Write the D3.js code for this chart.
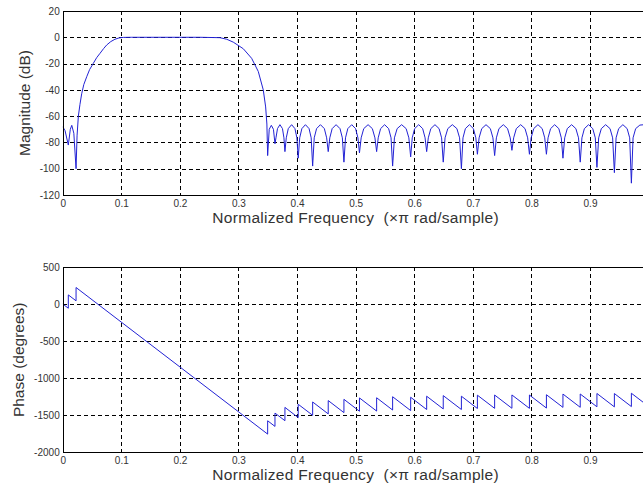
<!DOCTYPE html>
<html>
<head>
<meta charset="utf-8">
<script src="https://cdn.jsdelivr.net/npm/d3@7"></script>
<style>
  body { margin: 0; background: #fff; }
  svg { display: block; font-family: "Liberation Sans", Arial, sans-serif; }
</style>
</head>
<body>
<script>
// frequency ticks (x pi rad/sample)
const freqTicks = [0, 0.1, 0.2, 0.3, 0.4, 0.5, 0.6, 0.7, 0.8, 0.9];
const magTicks = [20, 0, -20, -40, -60, -80, -100, -120];
const phaseTicks = [500, 0, -500, -1000, -1500, -2000];

// magnitude response
const magFreq = [
  0, 0.004, 0.0096, 0.013, 0.0155, 0.019, 0.0228, 0.0245, 0.0267, 0.0295,
  0.0324, 0.036, 0.041, 0.046, 0.0523, 0.058, 0.0637, 0.07, 0.075, 0.082,
  0.0892, 0.096, 0.1034, 0.1177, 0.2343, 0.2684, 0.28, 0.2911, 0.3082, 0.3225,
  0.3338, 0.3423, 0.3464, 0.3485, 0.3498,
  0.3525, 0.3561, 0.3597, 0.3623,
  0.3640, 0.3666, 0.3708, 0.3751, 0.3776, 0.3793,
  0.3816, 0.3850, 0.3907, 0.3964, 0.3997, 0.4020,
  0.4045, 0.4082, 0.4143, 0.4205, 0.4241, 0.4266,
  0.4293, 0.4333, 0.4399, 0.4466, 0.4505, 0.4532,
  0.4559, 0.4599, 0.4666, 0.4733, 0.4773, 0.4800,
  0.4827, 0.4866, 0.4933, 0.4999, 0.5039, 0.5065,
  0.5094, 0.5138, 0.5212, 0.5285, 0.5329, 0.5358,
  0.5385, 0.5426, 0.5495, 0.5563, 0.5604, 0.5631,
  0.5662, 0.5708, 0.5785, 0.5862, 0.5908, 0.5939,
  0.5966, 0.6007, 0.6076, 0.6144, 0.6185, 0.6212,
  0.6240, 0.6283, 0.6354, 0.6424, 0.6467, 0.6495,
  0.6526, 0.6573, 0.6650, 0.6728, 0.6774, 0.6805,
  0.6832, 0.6873, 0.6942, 0.7010, 0.7051, 0.7078,
  0.7107, 0.7152, 0.7225, 0.7299, 0.7343, 0.7372,
  0.7402, 0.7446, 0.7520, 0.7593, 0.7638, 0.7667,
  0.7697, 0.7742, 0.7817, 0.7891, 0.7936, 0.7966,
  0.7995, 0.8039, 0.8111, 0.8184, 0.8227, 0.8256,
  0.8284, 0.8327, 0.8397, 0.8468, 0.8510, 0.8538,
  0.8568, 0.8612, 0.8686, 0.8759, 0.8804, 0.8833,
  0.8862, 0.8904, 0.8976, 0.9047, 0.9090, 0.9118,
  0.9148, 0.9193, 0.9267, 0.9342, 0.9386, 0.9416,
  0.9445, 0.9489, 0.9561, 0.9634, 0.9677, 0.9706,
  0.9735, 0.9779, 0.9851, 0.9925, 1.0
];
const magDb = [
  -68, -71, -82, -70, -67, -73, -100, -75, -60, -51,
  -43, -36, -30, -24.5, -19.8, -15.5, -12.2, -8.5, -5.9, -3.3,
  -1.5, -0.5, -0.1, 0, 0, -0.3, -1.5, -3.7, -8.7, -16,
  -26, -40, -53, -66, -90,
  -70, -67, -70, -81,
  -76.5, -69.5, -66.5, -69.5, -76.5, -87,
  -76.5, -69.5, -66.5, -69.5, -76.5, -92,
  -76.5, -69.5, -66.5, -69.5, -76.5, -98,
  -76.5, -69.5, -66.5, -69.5, -76.5, -87,
  -76.5, -69.5, -66.5, -69.5, -76.5, -95,
  -76.5, -69.5, -66.5, -69.5, -76.5, -88,
  -76.5, -69.5, -66.5, -69.5, -76.5, -87,
  -76.5, -69.5, -66.5, -69.5, -76.5, -98,
  -76.5, -69.5, -66.5, -69.5, -76.5, -91,
  -76.5, -69.5, -66.5, -69.5, -76.5, -87,
  -76.5, -69.5, -66.5, -69.5, -76.5, -95,
  -76.5, -69.5, -66.5, -69.5, -76.5, -100,
  -76.5, -69.5, -66.5, -69.5, -76.5, -89,
  -76.5, -69.5, -66.5, -69.5, -76.5, -90,
  -76.5, -69.5, -66.5, -69.5, -76.5, -86,
  -76.5, -69.5, -66.5, -69.5, -76.5, -89,
  -76.5, -69.5, -66.5, -69.5, -76.5, -89,
  -76.5, -69.5, -66.5, -69.5, -76.5, -92,
  -76.5, -69.5, -66.5, -69.5, -76.5, -95,
  -76.5, -69.5, -66.5, -69.5, -76.5, -99,
  -76.5, -69.5, -66.5, -69.5, -76.5, -103,
  -76.5, -69.5, -66.5, -69.5, -76.5, -111,
  -76.5, -69.5, -66.8, -66.5, -66.5
];

// phase response (repeated freq = jump)
const phaseFreq = [
  0, 0.0096, 0.0096, 0.0228, 0.0228, 0.3498, 0.3498, 0.3623, 0.3623, 0.3793,
  0.3793, 0.4020, 0.4020, 0.4266, 0.4266, 0.4532, 0.4532, 0.4800, 0.4800, 0.5065,
  0.5065, 0.5358, 0.5358, 0.5631, 0.5631, 0.5939, 0.5939, 0.6212, 0.6212, 0.6495,
  0.6495, 0.6805, 0.6805, 0.7078, 0.7078, 0.7372, 0.7372, 0.7667, 0.7667, 0.7966,
  0.7966, 0.8256, 0.8256, 0.8538, 0.8538, 0.8833, 0.8833, 0.9118, 0.9118, 0.9416,
  0.9416, 0.9706, 0.9706, 1.0
];
const phaseDeg = [
  5, -53, 127, 47, 227, -1754, -1574, -1650, -1470, -1573,
  -1393, -1531, -1351, -1500, -1320, -1481, -1301, -1464, -1284, -1445,
  -1265, -1443, -1263, -1429, -1249, -1436, -1256, -1422, -1242, -1414,
  -1234, -1422, -1242, -1408, -1228, -1406, -1226, -1405, -1225, -1406,
  -1226, -1402, -1222, -1393, -1213, -1392, -1212, -1385, -1205, -1386,
  -1206, -1382, -1202, -1380
];

const width = 643, height = 485;
const plotLeft = 62.7, plotRight = 648.6;

const svg = d3.select("body").append("svg")
  .attr("width", width)
  .attr("height", height);

const x = d3.scaleLinear().domain([0, 1]).range([plotLeft, plotRight]);

function panel(top, bottom, yDomain, yTicks, xs, ys, yLabel, yLabelX, id) {
  const y = d3.scaleLinear().domain(yDomain).range([bottom, top]);
  const g = svg.append("g");

  g.append("rect")
    .attr("x", plotLeft).attr("y", top)
    .attr("width", plotRight - plotLeft).attr("height", bottom - top)
    .attr("fill", "#fff");

  // grid
  const grid = g.append("g")
    .attr("stroke", "#000")
    .attr("stroke-width", 1)
    .attr("stroke-dasharray", "4,3")
    .attr("shape-rendering", "crispEdges");
  grid.selectAll(".vx").data(freqTicks.filter(d => d > 0)).enter().append("line")
    .attr("x1", d => Math.round(x(d)) + 0.5).attr("x2", d => Math.round(x(d)) + 0.5)
    .attr("y1", top).attr("y2", bottom);
  grid.selectAll(".hy").data(yTicks.filter(d => d > yDomain[0] && d < yDomain[1])).enter().append("line")
    .attr("y1", d => Math.round(y(d)) + 0.5).attr("y2", d => Math.round(y(d)) + 0.5)
    .attr("x1", plotLeft).attr("x2", plotRight);

  // data line
  svg.append("clipPath").attr("id", id)
    .append("rect")
    .attr("x", plotLeft).attr("y", top)
    .attr("width", plotRight - plotLeft).attr("height", bottom - top);

  const line = d3.line()
    .x((d, i) => x(xs[i]))
    .y((d, i) => y(ys[i]));

  g.append("path")
    .datum(xs)
    .attr("clip-path", "url(#" + id + ")")
    .attr("d", line)
    .attr("fill", "none")
    .attr("stroke", "#2222d4")
    .attr("stroke-width", 1);

  // box
  g.append("rect")
    .attr("x", Math.round(plotLeft) + 0.5).attr("y", Math.round(top) + 0.5)
    .attr("width", plotRight - plotLeft).attr("height", Math.round(bottom) - Math.round(top))
    .attr("fill", "none").attr("stroke", "#000").attr("stroke-width", 1)
    .attr("shape-rendering", "crispEdges");

  // axes
  const yAxis = g.append("g")
    .attr("transform", "translate(" + plotLeft + ",0)")
    .call(d3.axisLeft(y).tickValues(yTicks).tickSize(0).tickPadding(3).tickFormat(d3.format("d")));
  const xAxis = g.append("g")
    .attr("transform", "translate(0," + bottom + ")")
    .call(d3.axisBottom(x).tickValues(freqTicks).tickSize(0).tickPadding(5)
      .tickFormat(d => d === 0 ? "0" : d3.format(".1f")(d)));
  [xAxis, yAxis].forEach(a => {
    a.select(".domain").remove();
    a.selectAll("text")
      .attr("font-family", "'Liberation Sans', Arial, sans-serif")
      .attr("font-size", "10px")
      .attr("fill", "#333");
  });
  yAxis.selectAll("text").text(d => d < 0 ? "-" + Math.abs(d) : d);

  g.append("text")
    .attr("x", (plotLeft + plotRight) / 2)
    .attr("y", bottom + 27.5)
    .attr("text-anchor", "middle")
    .attr("font-size", "15.5px")
    .attr("letter-spacing", "0.3px")
    .attr("fill", "#333")
    .style("white-space", "pre")
    .text("Normalized Frequency\u00a0\u00a0(\u00d7\u03c0 rad/sample)");

  g.append("text")
    .attr("transform", "translate(" + yLabelX + "," + (top + bottom) / 2 + ") rotate(-90)")
    .attr("text-anchor", "middle")
    .attr("font-size", "15.5px")
    .attr("fill", "#333")
    .text(yLabel);
}

panel(11, 195, [-120, 20], magTicks, magFreq, magDb, "Magnitude (dB)", 30, "clipMag");
panel(267.3, 452.3, [-2000, 500], phaseTicks, phaseFreq, phaseDeg, "Phase (degrees)", 24, "clipPhase");
</script>
</body>
</html>
